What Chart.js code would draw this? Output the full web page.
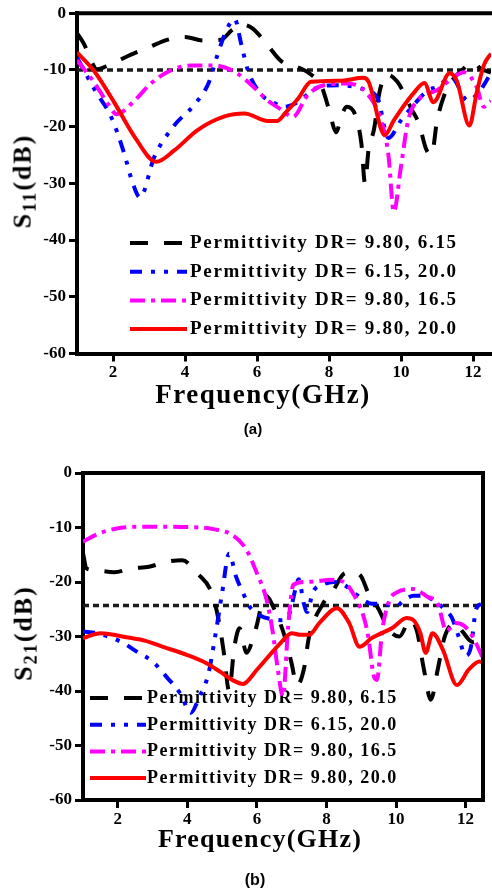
<!DOCTYPE html>
<html><head><meta charset="utf-8">
<script src="https://cdn.jsdelivr.net/npm/chart.js@4.4.1/dist/chart.umd.min.js"></script>
<style>
html,body{margin:0;padding:0;background:#fff;width:492px;height:894px;overflow:hidden;position:relative;}
.cv{position:absolute;left:0;}
.ytitle{position:absolute;font:bold 26px "Liberation Serif","Times New Roman",serif;line-height:1;letter-spacing:2px;transform:translate(-50%,-50%) rotate(-90deg);white-space:nowrap;color:#000;}
.ytitle sub{font-size:70%;vertical-align:-0.25em;line-height:1;}
.xtitle{position:absolute;font:bold 27px "Liberation Serif","Times New Roman",serif;line-height:1;letter-spacing:1.5px;transform:translate(-50%,0);white-space:nowrap;color:#000;}
.plabel{position:absolute;font:bold 15px "Liberation Sans",Arial,sans-serif;line-height:1;transform:translate(-50%,0);color:#000;}
</style></head>
<body>
<canvas id="ca" class="cv" width="492" height="390" style="top:0;width:492px;height:390px"></canvas>
<canvas id="cb" class="cv" width="492" height="390" style="top:450px;width:492px;height:390px"></canvas>
<div class="ytitle" style="left:24px;top:181px">S<sub>11</sub>(dB)</div>
<div class="ytitle" style="left:25px;top:633px">S<sub>21</sub>(dB)</div>
<div class="xtitle" style="left:263px;top:381px">Frequency(GHz)</div>
<div class="xtitle" style="left:260px;top:826px;font-size:26px;letter-spacing:1.2px">Frequency(GHz)</div>
<div class="plabel" style="left:253px;top:421px">(a)</div>
<div class="plabel" style="left:255px;top:872px;font-size:16px">(b)</div>
<script>
// ---------- shared ----------
const seriesLabels = ["Permittivity DR= 9.80, 6.15", "Permittivity DR= 6.15, 20.0", "Permittivity DR= 9.80, 16.5", "Permittivity DR= 9.80, 20.0"];
const freqRange = [1, 12.5];
const dbRange = [-60, 0];
const xTickStep = 2;
const yTickStep = 10;

// ---------- (a) S11 ----------
const s11RefLevel = -10;
const s11BlackFreq = [1.0, 1.2, 1.4, 1.55, 1.8, 2.2, 2.5, 3.0, 3.5, 4.0, 4.5, 5.0, 5.3, 5.6, 5.9, 6.3, 6.7, 7.2, 7.5, 7.8, 8.0, 8.2, 8.35, 8.5, 8.75, 8.9, 9.0, 9.1, 9.25, 9.4, 9.6, 9.9, 10.3, 10.5, 10.7, 10.85, 11.0, 11.2, 11.4, 11.7, 12.0, 12.2, 12.5];
const s11BlackDb   = [-3.5, -5.5, -8.5, -9.9, -9.4, -8.2, -7.3, -6.0, -4.7, -4.2, -4.8, -4.7, -3.0, -2.0, -2.8, -5.7, -8.6, -9.7, -10.8, -13.0, -17.0, -21.0, -18.0, -16.5, -18.3, -23.0, -30.0, -24.0, -20.5, -14.0, -10.8, -12.1, -17.0, -19.5, -24.0, -25.0, -19.0, -14.5, -12.0, -10.0, -8.6, -9.7, -10.5];
const s11BlueFreq  = [1.0, 1.5, 1.95, 2.3, 2.55, 2.75, 3.15, 3.7, 4.25, 4.65, 4.9, 5.15, 5.38, 5.56, 5.75, 6.1, 6.5, 6.75, 7.2, 7.6, 8.25, 8.9, 9.35, 9.65, 10.0, 10.35, 10.75, 11.0, 11.4, 11.85, 12.2, 12.5];
const s11BlueDb    = [-7.8, -13.6, -18.3, -24.5, -30.0, -32.5, -25.3, -19.8, -16.2, -12.4, -7.4, -3.0, -1.0, -5.4, -10.1, -14.2, -15.9, -16.5, -15.4, -13.3, -12.7, -13.3, -15.0, -22.0, -18.9, -16.2, -13.6, -13.0, -11.3, -15.4, -13.6, -10.5];
const s11MagFreq   = [1.0, 1.5, 1.85, 2.1, 2.6, 3.05, 3.6, 4.2, 4.8, 5.4, 5.85, 6.3, 6.7, 7.0, 7.4, 7.85, 8.5, 9.05, 9.45, 9.65, 9.8, 10.0, 10.2, 10.55, 11.0, 11.45, 11.75, 12.1, 12.3, 12.5];
const s11MagDb     = [-8.3, -12.4, -15.9, -17.8, -15.4, -12.4, -10.1, -9.2, -9.2, -10.4, -12.7, -15.4, -17.1, -18.3, -14.5, -12.7, -12.4, -14.1, -18.9, -25.0, -35.0, -27.0, -18.9, -14.8, -13.6, -11.3, -10.4, -13.0, -16.5, -15.5];
const s11RedFreq   = [1.0, 1.5, 2.05, 2.6, 3.2, 3.7, 4.35, 5.1, 5.65, 6.3, 6.55, 6.8, 7.15, 7.5, 8.35, 8.95, 9.1, 9.55, 9.8, 10.35, 10.65, 10.9, 11.35, 11.55, 11.9, 12.1, 12.3, 12.5];
const s11RedDb     = [-6.9, -10.4, -15.9, -21.8, -26.2, -24.2, -20.6, -18.2, -17.7, -19.0, -19.0, -17.5, -15.0, -12.1, -11.9, -11.4, -12.1, -21.5, -18.9, -14.1, -12.3, -15.7, -10.6, -11.9, -19.8, -14.1, -9.2, -7.1];

// ---------- (b) S21 ----------
const s21RefLevel = -24.3;
const s21BlackFreq = [1.0, 1.1, 1.3, 1.9, 2.4, 2.9, 3.4, 3.85, 4.3, 4.7, 4.9, 5.05, 5.2, 5.35, 5.5, 5.7, 5.95, 6.25, 6.5, 6.8, 7.0, 7.15, 7.35, 7.5, 7.9, 8.2, 8.5, 8.75, 9.0, 9.2, 9.5, 9.8, 10.1, 10.4, 10.6, 10.8, 11.0, 11.2, 11.4, 11.7, 11.9, 12.2, 12.5];
const s21BlackDb   = [-14.7, -17.5, -17.8, -18.2, -17.5, -17.2, -16.3, -16.0, -18.5, -22.0, -27.0, -33.0, -40.0, -32.0, -28.5, -33.0, -29.0, -22.5, -25.0, -30.0, -35.0, -39.0, -36.0, -30.0, -24.0, -21.5, -18.5, -18.2, -19.0, -22.0, -25.0, -28.8, -30.0, -27.0, -29.0, -36.0, -41.6, -36.0, -30.0, -27.5, -29.0, -31.0, -30.0];
const s21BlueFreq  = [1.0, 1.4, 2.1, 2.6, 3.0, 3.4, 3.8, 4.1, 4.35, 4.6, 4.8, 5.0, 5.2, 5.4, 5.6, 5.8, 6.1, 6.4, 6.7, 6.95, 7.1, 7.2, 7.35, 7.45, 7.6, 7.9, 8.2, 8.5, 8.8, 9.0, 9.3, 9.6, 10.0, 10.2, 10.5, 10.8, 11.1, 11.4, 11.6, 11.8, 12.0, 12.15, 12.3, 12.45];
const s21BlueDb    = [-29.1, -29.4, -31.0, -33.0, -34.6, -37.4, -40.5, -44.0, -41.0, -37.0, -30.0, -22.0, -14.8, -19.0, -22.0, -24.6, -26.2, -26.8, -27.0, -25.5, -21.5, -19.5, -24.0, -25.5, -22.0, -20.5, -20.0, -20.5, -22.0, -23.0, -24.0, -24.0, -24.5, -23.5, -22.5, -22.5, -23.5, -25.0, -26.5, -30.0, -33.5, -32.0, -25.0, -24.0];
const s21MagFreq   = [1.0, 1.5, 2.05, 2.8, 3.8, 4.75, 5.3, 5.7, 6.0, 6.28, 6.46, 6.6, 6.75, 6.9, 7.05, 7.4, 7.8, 8.1, 8.5, 8.8, 9.05, 9.2, 9.35, 9.45, 9.6, 9.8, 10.0, 10.5, 10.9, 11.2, 11.45, 11.7, 11.95, 12.2, 12.5];
const s21MagDb     = [-12.6, -11.0, -10.1, -9.85, -9.9, -10.3, -11.4, -14.1, -18.4, -23.3, -29.4, -36.0, -41.0, -28.0, -20.5, -20.0, -19.8, -19.6, -20.0, -22.5, -26.0, -30.0, -37.0, -38.0, -29.0, -23.5, -22.0, -21.3, -22.7, -24.0, -29.0, -27.5, -28.0, -30.0, -34.0];
const s21RedFreq   = [1.0, 1.5, 2.3, 2.8, 3.3, 4.0, 4.55, 4.95, 5.3, 5.6, 6.0, 6.65, 7.0, 7.25, 7.5, 7.8, 8.3, 8.65, 8.95, 9.3, 9.9, 10.3, 10.5, 10.7, 10.85, 11.05, 11.35, 11.75, 12.1, 12.4, 12.5];
const s21RedDb     = [-30.3, -29.4, -30.2, -30.8, -31.9, -33.4, -34.9, -36.5, -38.0, -38.7, -36.1, -31.4, -29.4, -29.7, -29.7, -27.5, -24.8, -27.5, -31.9, -30.3, -28.4, -26.6, -27.0, -29.4, -33.0, -29.4, -32.5, -38.9, -36.0, -34.6, -34.8];

// ---------- styles ----------
const styles = [
  {color: '#000000', dash: [18, 16], order: 3},
  {color: '#0000ff', dash: [12, 9, 4, 9, 4, 9], order: 2},
  {color: '#ff00ff', dash: [15, 6, 4, 6], order: 1},
  {color: '#ff0000', dash: [], order: 0}
];
const pts = (fx, fy) => fx.map((f, i) => ({x: f, y: fy[i]}));
function buildDatasets(series, ref) {
  const ds = series.map((s, i) => ({
    label: seriesLabels[i], data: pts(s[0], s[1]),
    borderColor: styles[i].color, borderDash: styles[i].dash, borderWidth: 4,
    pointRadius: 0, fill: false, cubicInterpolationMode: 'monotone', order: styles[i].order,
    inLegend: true
  }));
  ds.push({label: 'ref', data: [{x: freqRange[0], y: ref}, {x: freqRange[1], y: ref}],
    borderColor: '#1a1a1a', borderDash: [6, 4], borderWidth: 3.5, pointRadius: 0, fill: false, order: 4, inLegend: false});
  return ds;
}

const legendInside = {
  id: 'legendInside',
  beforeDatasetsDraw(chart, args, o) {
    const ctx = chart.ctx;
    ctx.save();
    chart.data.datasets.filter(d => d.inLegend).forEach((d, i) => {
      const y = o.y0 + i * o.dy;
      ctx.strokeStyle = d.borderColor; ctx.lineWidth = d.borderWidth;
      ctx.setLineDash(d.borderDash || []);
      ctx.beginPath(); ctx.moveTo(o.x0, y); ctx.lineTo(o.x0 + o.len, y); ctx.stroke();
      ctx.setLineDash([]);
      ctx.fillStyle = '#000'; ctx.font = o.font;
      if ('letterSpacing' in ctx) ctx.letterSpacing = o.ls;
      ctx.textAlign = 'left'; ctx.textBaseline = 'alphabetic';
      ctx.fillText(d.label, o.textX, y + o.base);
    });
    ctx.restore();
  }
};
const frame = {
  id: 'frame',
  afterDraw(chart, args, o) {
    const ctx = chart.ctx, a = chart.chartArea;
    ctx.save(); ctx.strokeStyle = '#000'; ctx.lineWidth = 4; ctx.setLineDash([]);
    ctx.beginPath(); ctx.moveTo(a.left - 2, a.top); ctx.lineTo(o.topEnd, a.top); ctx.stroke();
    if (o.right) { ctx.beginPath(); ctx.moveTo(a.right, a.top - 2); ctx.lineTo(a.right, a.bottom + 2); ctx.stroke(); }
    ctx.restore();
  }
};

function makeChart(id, datasets, cfg) {
  const tickFont = {family: '"Liberation Serif","Times New Roman",serif', weight: 'bold', size: 17};
  const gridCfg = {display: true, drawOnChartArea: false, drawTicks: true, tickLength: 8, tickWidth: 3, tickColor: '#000'};
  return new Chart(document.getElementById(id), {
    type: 'line',
    data: {datasets},
    plugins: [legendInside, frame],
    options: {
      responsive: false, animation: false, events: [],
      layout: {padding: {left: 0, top: cfg.top, right: cfg.right, bottom: 0}},
      plugins: {legend: {display: false}, tooltip: {enabled: false}, title: {display: false},
        legendInside: cfg.legend, frame: cfg.frame},
      scales: {
        x: {type: 'linear', min: freqRange[0], max: freqRange[1],
          ticks: {stepSize: xTickStep, includeBounds: false, font: tickFont, color: '#000', padding: 1, maxRotation: 0},
          grid: gridCfg, border: {display: true, width: 4, color: '#000'},
          afterFit: s => { s.height = cfg.xh; }},
        y: {type: 'linear', min: dbRange[0], max: dbRange[1],
          ticks: {stepSize: yTickStep, font: tickFont, color: '#000', padding: 3},
          grid: gridCfg, border: {display: true, width: 4, color: '#000'},
          afterFit: s => { s.width = cfg.yw; }}
      }
    }
  });
}

makeChart('ca', buildDatasets([[s11BlackFreq, s11BlackDb], [s11BlueFreq, s11BlueDb], [s11MagFreq, s11MagDb], [s11RedFreq, s11RedDb]], s11RefLevel), {
  top: 12.7, right: 1, xh: 36.5, yw: 77,
  legend: {x0: 130, len: 57, textX: 190, y0: 243, dy: 28.7, base: 5, font: 'bold 19px "Liberation Serif","Times New Roman",serif', ls: '1.7px'},
  frame: {topEnd: 492, right: false}
});
makeChart('cb', buildDatasets([[s21BlackFreq, s21BlackDb], [s21BlueFreq, s21BlueDb], [s21MagFreq, s21MagDb], [s21RedFreq, s21RedDb]], s21RefLevel), {
  top: 23, right: 9, xh: 40, yw: 83,
  legend: {x0: 90, len: 56, textX: 147, y0: 248, dy: 26.7, base: 5, font: 'bold 18px "Liberation Serif","Times New Roman",serif', ls: '1.5px'},
  frame: {topEnd: 485, right: true}
});
</script>
</body></html>
